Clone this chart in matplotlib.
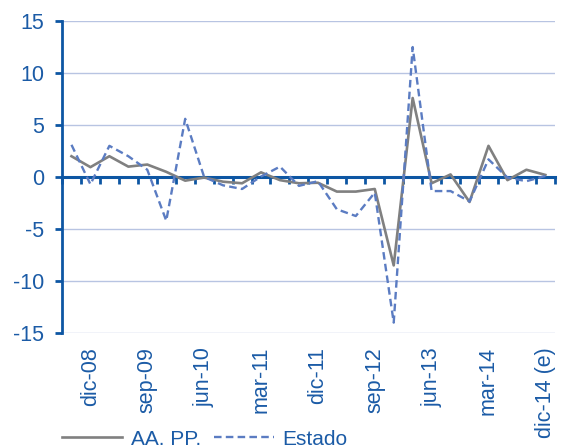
import matplotlib
matplotlib.use("Agg")
import matplotlib.pyplot as plt
import numpy as np

categories = ["sep-08", "dic-08", "mar-09", "jun-09", "sep-09", "dic-09", "mar-10", "jun-10",
              "sep-10", "dic-10", "mar-11", "jun-11", "sep-11", "dic-11", "mar-12", "jun-12",
              "sep-12", "dic-12", "mar-13", "jun-13", "sep-13", "dic-13", "mar-14", "jun-14",
              "sep-14", "dic-14 (e)"]
aapp = [2.0, 0.95, 2.0, 1.0, 1.2, 0.5, -0.35, -0.05, -0.45, -0.6, 0.45, -0.3, -0.6, -0.55,
        -1.4, -1.4, -1.15, -8.5, 7.6, -0.6, 0.25, -2.4, 3.0, -0.3, 0.7, 0.2]
estado = [3.1, -0.7, 3.0, 2.0, 0.7, -4.2, 5.6, 0.0, -0.8, -1.15, 0.05, 1.0, -0.85, -0.4,
          -3.1, -3.75, -1.5, -14.0, 12.5, -1.35, -1.35, -2.35, 1.7, -0.05, -0.4, 0.1]
label_idx = [1, 4, 7, 10, 13, 16, 19, 22, 25]
yticks = [-15, -10, -5, 0, 5, 10, 15]

txt = "#1B5BA6"
axc = "#0D56A3"
grid = "#B8C4E2"
gray = "#808080"
blue = "#5B7CC2"

plt.rcParams['font.family'] = ['Liberation Sans', 'DejaVu Sans']
plt.rcParams['axes.unicode_minus'] = False
fig = plt.figure(figsize=(5.61, 4.48), dpi=100)
ax = fig.add_axes([0.1105, 0.2567, 0.8785, 0.6963])

x = np.arange(len(categories))
ax.plot(x, aapp, color=gray, lw=1.9, label="AA. PP.", zorder=3)
ax.plot(x, estado, color=blue, lw=1.7, dashes=(3.2, 1.8), label="Estado", zorder=4)

ax.set_xlim(-0.5, len(categories) - 0.5)
ax.set_ylim(-15, 15)
ax.set_yticks(yticks)
for v in yticks:
    if v != 0:
        ax.axhline(v, color=grid, lw=1.0, zorder=1)

for s in ["top", "right"]:
    ax.spines[s].set_visible(False)
ax.spines["left"].set_color(axc)
ax.spines["left"].set_linewidth(2.0)
ax.spines["bottom"].set_position(("data", 0))
ax.spines["bottom"].set_color(axc)
ax.spines["bottom"].set_linewidth(2.2)
ax.spines["bottom"].set_zorder(2)

ax.tick_params(axis="y", colors=axc, labelcolor=txt, labelsize=15.5, length=5, width=2, pad=8)
ax.set_xticks(np.arange(len(categories) + 1) - 0.5)
ax.tick_params(axis="x", colors=axc, length=5, width=2, direction="out", labelbottom=False)

sec = ax.secondary_xaxis(0)
sec.set_xticks([x[i] for i in label_idx])
sec.set_xticklabels([categories[i] for i in label_idx], rotation=90, color=txt, fontsize=15.5)
sec.tick_params(length=0, pad=10)
sec.spines["bottom"].set_visible(False)

ax.legend(loc="center", bbox_to_anchor=(0.365, 0.02), bbox_transform=fig.transFigure,
          ncol=2, frameon=False, fontsize=15, handlelength=2.9, handletextpad=0.4,
          columnspacing=0.6, labelcolor=txt)

fig.savefig("out.png", dpi=100)
